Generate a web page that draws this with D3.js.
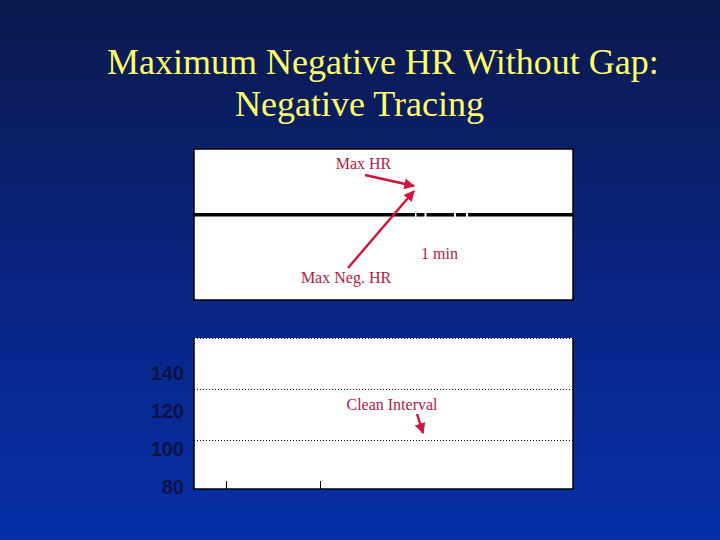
<!DOCTYPE html>
<html><head><meta charset="utf-8">
<script src="https://cdn.jsdelivr.net/npm/d3@7"></script>
<style>html,body{margin:0;padding:0;background:#0a1a50;}svg{display:block;}</style>
</head><body>
<script>
// ---- data ----
const titleLines = ["Maximum Negative HR Without Gap:", "Negative Tracing"];
// top panel: flat negative trace (HR value) with tiny breaks, x in samples
const traceSegments = [
  {x0: 0, x1: 221, hr: 119.5},
  {x0: 222.5, x1: 230.5, hr: 119.5},
  {x0: 232.5, x1: 260, hr: 119.5},
  {x0: 262, x1: 272, hr: 119.5},
  {x0: 274, x1: 379, hr: 119.5}
];
const topXDomain = [0, 379];
const topYDomain = [80, 150];
// bottom panel
const bottomYTicks = [80, 100, 120, 140];
const bottomYDomain = [79, 158.5];
const bottomGrid = [104.7, 131.6];
const bottomXTicks = [10, 20];
const bottomXDomain = [6.6, 46.9];
// annotations
const topLabels = [
  {text: "Max HR", x: 363.5, y: 169},
  {text: "1 min", x: 439.5, y: 259},
  {text: "Max Neg. HR", x: 346, y: 283}
];
const topArrows = [
  {x1: 365, y1: 175, x2: 414, y2: 186},
  {x1: 348, y1: 268, x2: 414, y2: 191}
];
const bottomLabels = [{text: "Clean Interval", x: 392, y: 410}];
const bottomArrows = [{x1: 417, y1: 414, x2: 423, y2: 433}];

// ---- drawing ----
const W = 720, H = 540;
const svg = d3.select("body").append("svg").attr("width", W).attr("height", H);
const defs = svg.append("defs");
const grad = defs.append("linearGradient").attr("id","bg").attr("x1",0).attr("y1",0).attr("x2",0).attr("y2",1);
grad.append("stop").attr("offset","0%").attr("stop-color","#0b194c");
grad.append("stop").attr("offset","50%").attr("stop-color","#0a2480");
grad.append("stop").attr("offset","100%").attr("stop-color","#0630a8");
svg.append("rect").attr("width",W).attr("height",H).attr("fill","url(#bg)");

const mk = defs.append("marker").attr("id","ah").attr("viewBox","0 0 10 10")
  .attr("refX",9).attr("refY",5).attr("markerWidth",4.5).attr("markerHeight",4.5)
  .attr("orient","auto").attr("markerUnits","strokeWidth");
mk.append("path").attr("d","M0,0L10,5L0,10Z").attr("fill","#d4123c");

// title
const titleFont = "'Liberation Serif','Times New Roman',serif";
svg.append("text").attr("x",107).attr("y",74).text(titleLines[0])
  .attr("font-family",titleFont).attr("font-size",36).attr("fill","#ffff66");
svg.append("text").attr("x",235).attr("y",116).text(titleLines[1])
  .attr("font-family",titleFont).attr("font-size",36).attr("fill","#ffff66");

// top panel
const tp = {x:194, y:149, w:379, h:151};
svg.append("rect").attr("x",tp.x).attr("y",tp.y).attr("width",tp.w).attr("height",tp.h)
  .attr("fill","#fff").attr("stroke","#000").attr("stroke-width",1.5);
const tx = d3.scaleLinear().domain(topXDomain).range([tp.x, tp.x+tp.w]);
const ty = d3.scaleLinear().domain(topYDomain).range([tp.y+tp.h, tp.y]);
svg.append("g").selectAll("line").data(traceSegments).join("line")
  .attr("x1",d=>tx(d.x0)).attr("x2",d=>tx(d.x1)).attr("y1",d=>ty(d.hr)).attr("y2",d=>ty(d.hr))
  .attr("stroke","#000").attr("stroke-width",3.5);

const labelFont = "'Liberation Serif','Times New Roman',serif";
function drawLabels(arr){
  svg.append("g").selectAll("text").data(arr).join("text")
    .attr("x",d=>d.x).attr("y",d=>d.y).attr("text-anchor","middle").text(d=>d.text)
    .attr("font-family",labelFont).attr("font-size",16).attr("fill","#b51a40");
}
function drawArrows(arr){
  svg.append("g").selectAll("line").data(arr).join("line")
    .attr("x1",d=>d.x1).attr("y1",d=>d.y1).attr("x2",d=>d.x2).attr("y2",d=>d.y2)
    .attr("stroke","#d4123c").attr("stroke-width",2.4).attr("marker-end","url(#ah)");
}
drawLabels(topLabels);
drawArrows(topArrows);

// bottom panel
const bp = {x:194, y:338, w:379, h:151};
const by = d3.scaleLinear().domain(bottomYDomain).range([bp.y+bp.h, bp.y]);
const bx = d3.scaleLinear().domain(bottomXDomain).range([bp.x, bp.x+bp.w]);
svg.append("rect").attr("x",bp.x).attr("y",bp.y).attr("width",bp.w).attr("height",bp.h).attr("fill","#fff");
// gridlines dotted
svg.append("g").selectAll("line").data(bottomGrid).join("line")
  .attr("x1",bp.x).attr("x2",bp.x+bp.w).attr("y1",d=>Math.round(by(d))+0.5).attr("y2",d=>Math.round(by(d))+0.5)
  .attr("stroke","#000").attr("stroke-width",1).attr("stroke-dasharray","1,2");
// dotted top edge
svg.append("line").attr("x1",bp.x).attr("x2",bp.x+bp.w).attr("y1",bp.y+0.5).attr("y2",bp.y+0.5)
  .attr("stroke","#000").attr("stroke-width",1.2).attr("stroke-dasharray","1,2");
// left, bottom, right edges
svg.append("path").attr("d",`M${bp.x},${bp.y}V${bp.y+bp.h}H${bp.x+bp.w}V${bp.y}`)
  .attr("fill","none").attr("stroke","#000").attr("stroke-width",1.5);
// x ticks (inward)
svg.append("g").selectAll("line").data(bottomXTicks).join("line")
  .attr("x1",d=>Math.round(bx(d))+0.5).attr("x2",d=>Math.round(bx(d))+0.5)
  .attr("y1",bp.y+bp.h).attr("y2",bp.y+bp.h-8).attr("stroke","#000").attr("stroke-width",1);
// y labels
const yAxis = d3.axisLeft(d3.scaleLinear().domain([80,140]).range([487,373])).tickValues(bottomYTicks).tickSize(0).tickPadding(0);
const yg = svg.append("g").attr("transform","translate(184,0)").call(yAxis);
yg.select(".domain").remove();
yg.selectAll("text").attr("font-family","'Liberation Sans Narrow','Arial Narrow','Liberation Sans',Arial,sans-serif")
  .attr("font-weight","bold").attr("font-size",20).attr("fill","#0a1248");

drawLabels(bottomLabels);
drawArrows(bottomArrows);
</script>
</body></html>
